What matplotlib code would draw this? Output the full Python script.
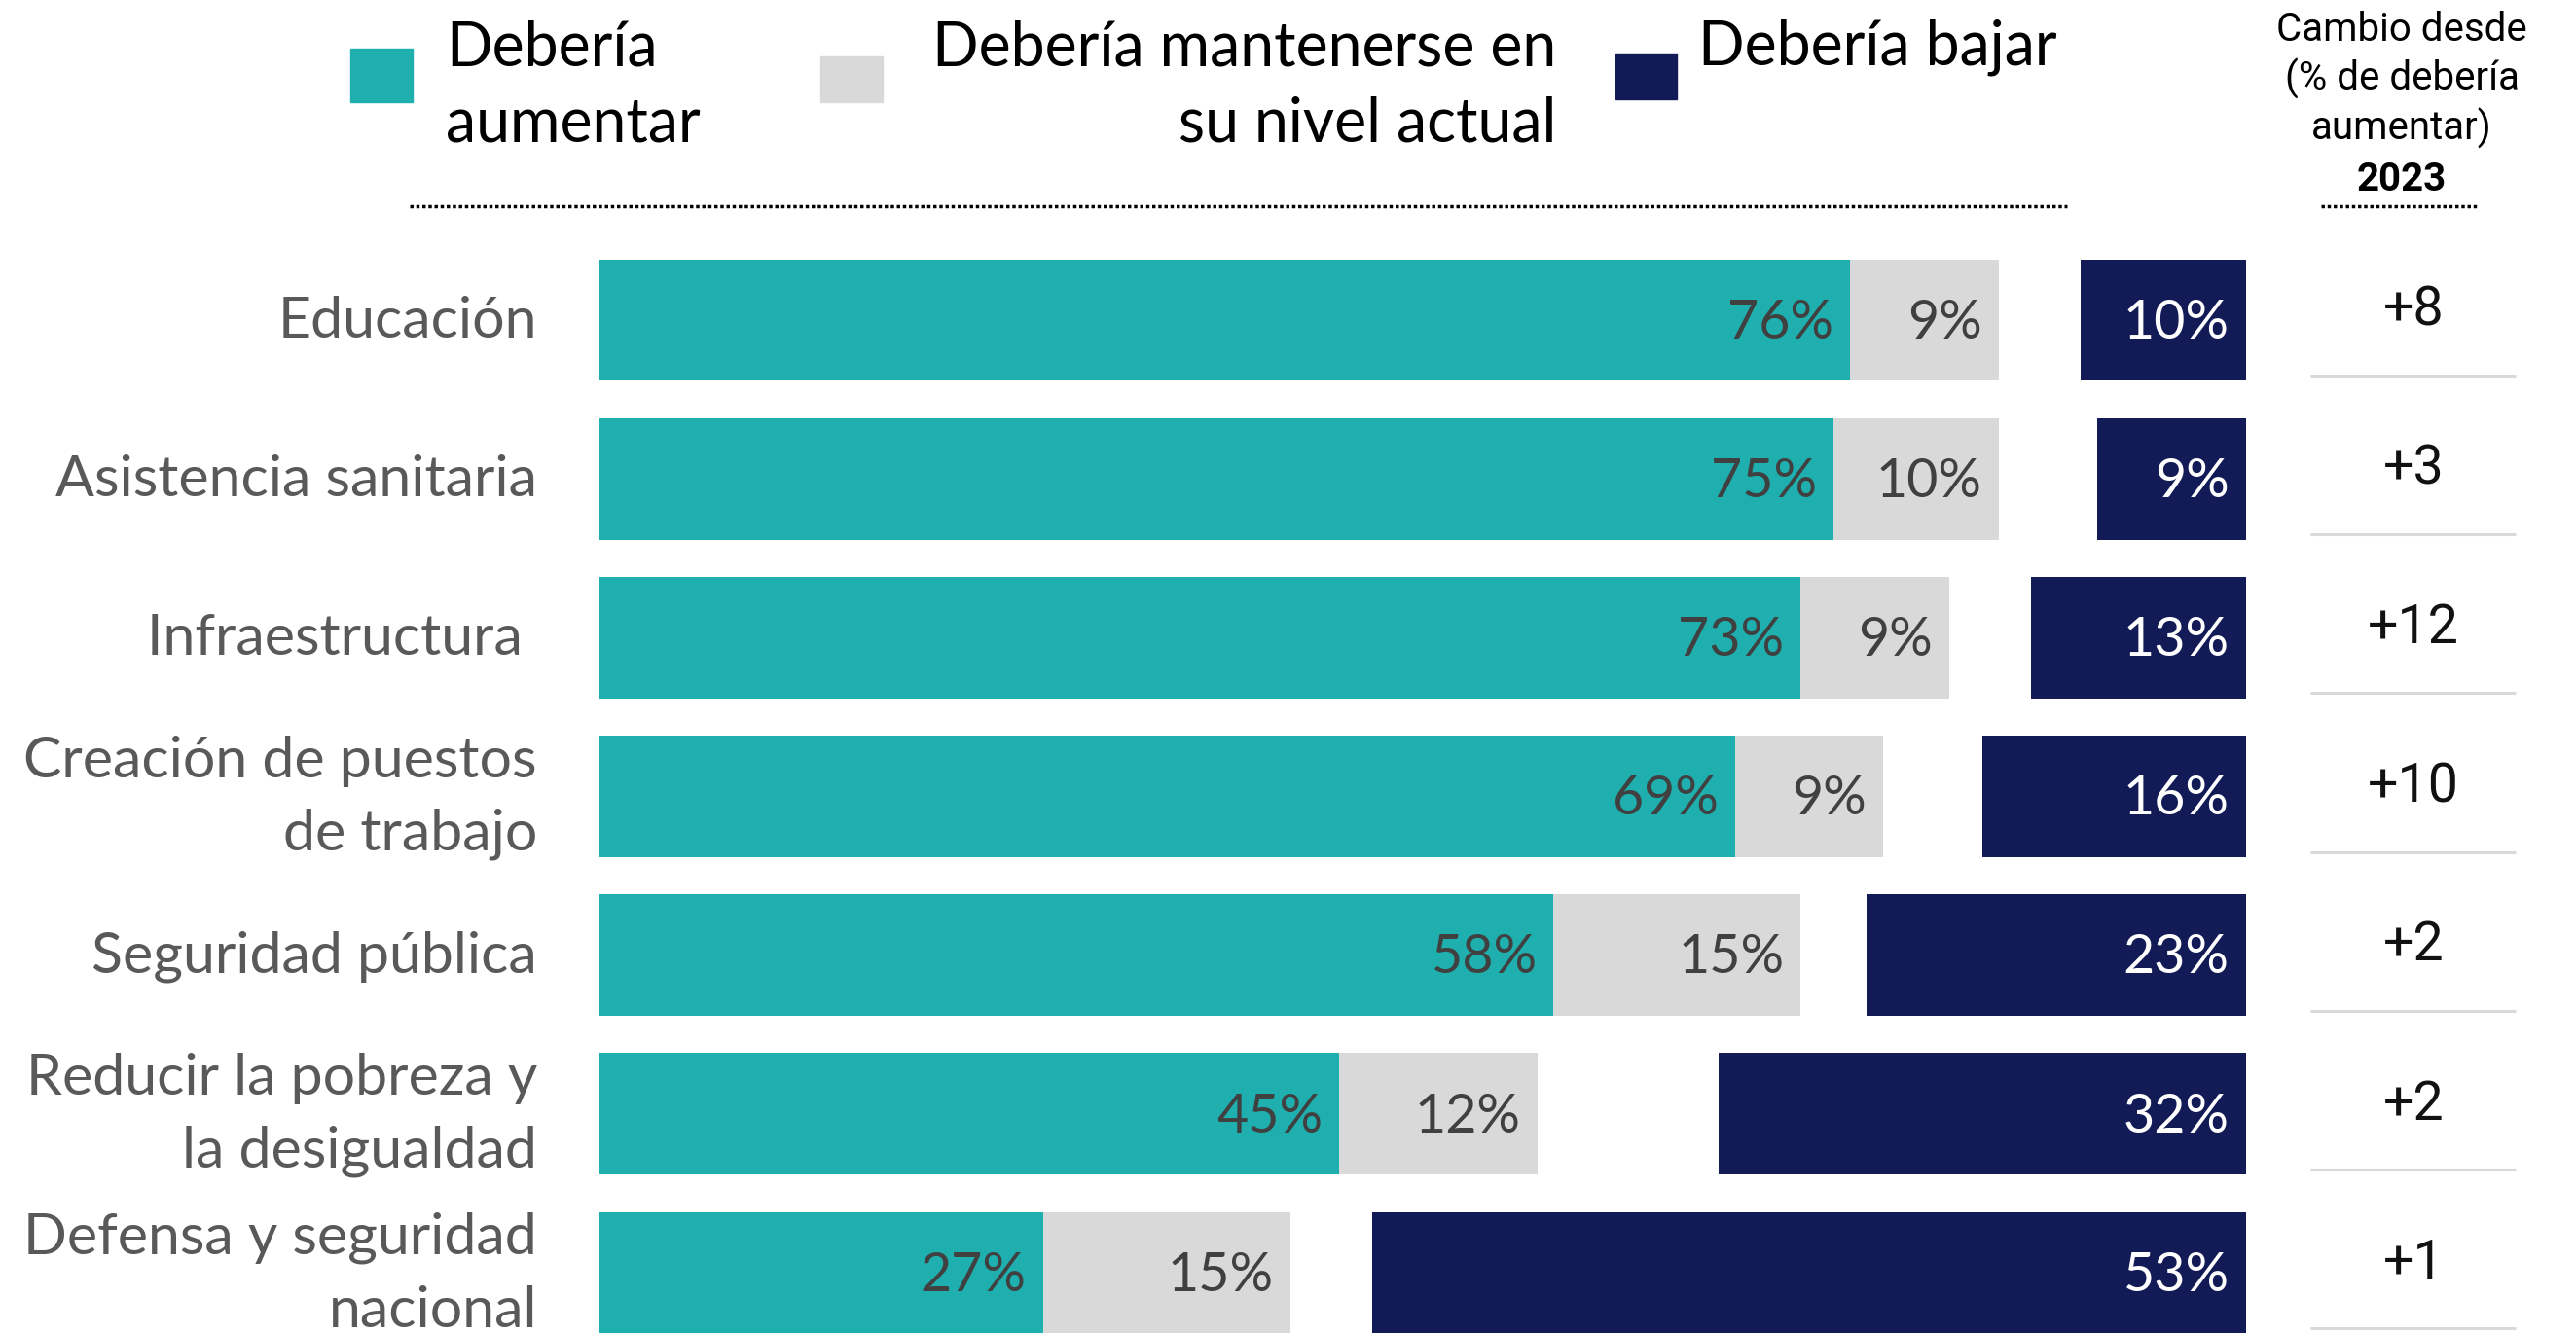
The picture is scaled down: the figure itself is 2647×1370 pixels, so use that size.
import matplotlib
matplotlib.use("Agg")
import matplotlib.pyplot as plt
from matplotlib.patches import Rectangle

# data
categories = ["Educación", "Asistencia sanitaria", "Infraestructura ",
              "Creación de puestos\nde trabajo", "Seguridad pública",
              "Reducir la pobreza y\nla desigualdad", "Defensa y seguridad\nnacional"]
increase = [76, 75, 73, 69, 58, 45, 27]
maintain = [9, 10, 9, 9, 15, 12, 15]
decrease = [10, 9, 13, 16, 23, 32, 53]
change_2023 = ["+8", "+3", "+12", "+10", "+2", "+2", "+1"]

legend_labels = ["Debería\naumentar", "Debería mantenerse en\nsu nivel actual", "Debería bajar"]
header_lines = ["Cambio desde", "(% de debería", "aumentar)", "2023"]

TEAL = "#1FAFAE"
GRAY = "#D9D9D9"
NAVY = "#131B57"
LABEL_FONT = ["Lato", "DejaVu Sans"]
NUM_FONT = ["Roboto", "DejaVu Sans"]

W, H = 2647, 1370
fig = plt.figure(figsize=(W / 100, H / 100), dpi=100)
ax = fig.add_axes([0, 0, 1, 1])
ax.set_xlim(-36.3, 120.05)
ax.set_ylim(6.38, -2.016)
ax.set_axis_off()


def fx(px):
    return px / W


def fy(py):
    return 1 - py / H


rows = list(range(len(categories)))
bh = 0.765
ax.barh(rows, increase, height=bh, color=TEAL)
ax.barh(rows, maintain, left=increase, height=bh, color=GRAY)
ax.barh(rows, decrease, left=[100 - d for d in decrease], height=bh, color=NAVY)

for i in rows:
    ax.text(-3.7, i + 0.01, categories[i], ha="right", va="center", multialignment="right",
            fontsize=42.5, color="#595959", family=LABEL_FONT, linespacing=1.5)
    ax.text(increase[i] - 1, i + 0.02, f"{increase[i]}%", ha="right", va="center",
            fontsize=40, color="#404040", family=LABEL_FONT)
    ax.text(increase[i] + maintain[i] - 1, i + 0.02, f"{maintain[i]}%", ha="right", va="center",
            fontsize=40, color="#404040", family=LABEL_FONT)
    ax.text(99, i + 0.02, f"{decrease[i]}%", ha="right", va="center",
            fontsize=40, color="white", family=LABEL_FONT)
    ax.text(110.2, i - 0.06, change_2023[i], ha="center", va="center",
            fontsize=40, color="#111111", family=NUM_FONT)
    ax.plot([103.9, 116.4], [i + 0.35, i + 0.35], color=GRAY, lw=2.2, solid_capstyle="butt")

# legend swatches
for (x0, x1, y0, y1), c in zip([(360, 424, 50, 105), (843, 907, 58, 105), (1660, 1723, 55, 102)],
                               [TEAL, GRAY, NAVY]):
    fig.patches.append(Rectangle((fx(x0), fy(y1)), fx(x1) - fx(x0), fy(y0) - fy(y1),
                                 transform=fig.transFigure, color=c))

l1 = legend_labels[0].split("\n")
l2 = legend_labels[1].split("\n")
LFS = 45
fig.text(fx(458), fy(67), l1[0], ha="left", va="baseline", fontsize=LFS, family=LABEL_FONT)
fig.text(fx(458), fy(145), l1[1], ha="left", va="baseline", fontsize=LFS, family=LABEL_FONT)
fig.text(fx(1599), fy(67), l2[0], ha="right", va="baseline", fontsize=LFS, family=LABEL_FONT)
fig.text(fx(1599), fy(145), l2[1], ha="right", va="baseline", fontsize=LFS, family=LABEL_FONT)
fig.text(fx(1745), fy(67), legend_labels[2], ha="left", va="baseline", fontsize=LFS, family=LABEL_FONT)

# header of right column
for line, yb in zip(header_lines, [42, 93, 144, 196]):
    fig.text(fx(2468), fy(yb), line, ha="center", va="baseline", fontsize=29,
             family=NUM_FONT, fontweight="bold" if line == "2023" else "normal")

# dotted rules
fig.add_artist(plt.Line2D([fx(421), fx(2124)], [fy(212), fy(212)], color="black",
                          lw=2.5, linestyle=(0, (1, 0.8)), transform=fig.transFigure))
fig.add_artist(plt.Line2D([fx(2385), fx(2547)], [fy(212), fy(212)], color="black",
                          lw=2.5, linestyle=(0, (1, 0.8)), transform=fig.transFigure))

fig.savefig("out.png", dpi=100)
